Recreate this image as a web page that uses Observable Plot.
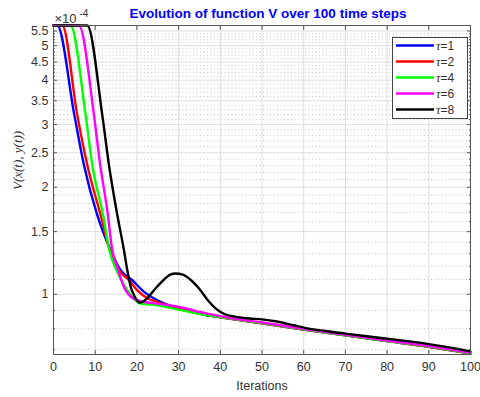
<!DOCTYPE html>
<html><head><meta charset="utf-8">
<script src="https://cdn.jsdelivr.net/npm/d3@7"></script>
<script src="https://cdn.jsdelivr.net/npm/@observablehq/plot@0.6"></script>
<style>
body{margin:0;background:#fff;}
#wrap{position:relative;width:480px;height:397px;}
</style></head><body><div id="wrap"></div>
<script>
const title = "Evolution of function V over 100 time steps";
const xLabel = "Iterations";
const yLabel = "V(x(t), y(t))";
const taus = [1, 2, 4, 6, 8];
const colors = ["#0000ff", "#ff0000", "#00ff00", "#ff00ff", "#000000"];

// values in units of 1e-4
const x1 = [0, 0.9, 5.0, 7.3, 10.5, 13.7, 16.1, 18.9, 21.3, 24.9, 28.9, 36.9, 40, 50, 60, 70, 80, 90, 100];
const v1 = [5.7, 5.7, 3.19, 2.31, 1.67, 1.33, 1.168, 1.095, 1.026, 0.962, 0.921, 0.873, 0.862, 0.829, 0.796, 0.766, 0.738, 0.712, 0.681];
const x2 = [0, 2.1, 5.7, 8.1, 11.3, 13.5, 15.7, 18.1, 20.1, 22.5, 24.9, 28.9, 36.9, 40, 50, 60, 70, 80, 90, 100];
const v2 = [5.7, 5.7, 3.19, 2.31, 1.67, 1.33, 1.168, 1.095, 1.026, 0.975, 0.951, 0.921, 0.873, 0.862, 0.829, 0.796, 0.766, 0.738, 0.712, 0.681];
const x4 = [0, 4.1, 7.7, 9.3, 11.9, 13.4, 15.1, 17.7, 19.3, 20.9, 24.9, 28.9, 36.9, 40, 50, 60, 70, 80, 90, 100];
const v4 = [5.7, 5.7, 3.19, 2.31, 1.67, 1.33, 1.168, 1.026, 0.972, 0.941, 0.931, 0.911, 0.873, 0.863, 0.830, 0.797, 0.767, 0.739, 0.713, 0.682];
const x6 = [0, 6.1, 9.7, 11.2, 12.9, 14.1, 15.3, 17.3, 20.1, 24.9, 28.9, 36.9, 43.2, 50, 60, 70, 80, 90, 100];
const v6 = [5.7, 5.7, 3.19, 2.31, 1.72, 1.33, 1.19, 1.026, 0.962, 0.941, 0.927, 0.882, 0.855, 0.833, 0.799, 0.769, 0.741, 0.715, 0.684];
const x8 = [0, 8.1, 11.7, 13.3, 15.3, 16.9, 17.7, 18.5, 19.3, 20.7, 22.5, 24.5, 26.5, 28, 29.3, 31, 33, 35, 37, 39, 41, 43.5, 47, 50, 53.6, 57.6, 60, 65.6, 70, 80, 90, 100];
const v8 = [5.7, 5.7, 3.19, 2.31, 1.67, 1.33, 1.168, 1.05, 0.994, 0.947, 0.975, 1.04, 1.10, 1.135, 1.144, 1.135, 1.095, 1.035, 0.962, 0.91, 0.88, 0.865, 0.855, 0.85, 0.838, 0.818, 0.806, 0.787, 0.775, 0.750, 0.724, 0.691];

const xTicks = [0, 10, 20, 30, 40, 50, 60, 70, 80, 90, 100];
const yTicks = [1, 1.5, 2, 2.5, 3, 3.5, 4, 4.5, 5, 5.5];
const yMinor = d3.range(7, 56).map(d => d / 10).filter(d => !yTicks.some(t => Math.abs(t - d) < 1e-9));

const seriesX = [x1, x2, x4, x6, x8];
const seriesV = [v1, v2, v4, v6, v8];
const rows = [];
taus.forEach((t, i) => seriesX[i].forEach((x, j) => rows.push({tau: t, x, v: seriesV[i][j]})));

const font = "'Liberation Sans', Arial, Helvetica, sans-serif";
const plot = Plot.plot({
  width: 480, height: 397,
  marginLeft: 53, marginRight: 10, marginTop: 25, marginBottom: 43,
  style: {fontFamily: font, fontSize: "12px", color: "#262626", background: "#fff"},
  x: {domain: [0, 100]},
  y: {type: "log", domain: [0.677, 5.7]},
  color: {domain: taus, range: colors},
  marks: [
    Plot.gridY(yMinor, {stroke: "#a0a0a0", strokeOpacity: 0.6, strokeDasharray: "1,2.5"}),
    Plot.gridY(yTicks, {stroke: "#dedede", strokeOpacity: 1}),
    Plot.gridX(xTicks, {stroke: "#dedede", strokeOpacity: 1}),
    Plot.line(rows, {x: "x", y: "v", z: "tau", stroke: d => d.tau, strokeWidth: 2.4, curve: "monotone-x"}),
    Plot.frame({stroke: "#555", strokeWidth: 1}),
    Plot.axisX(xTicks, {tickSize: -4, tickPadding: 12, label: null, tickFormat: d => d, fontSize: 12.5, fill: "#333", stroke: "#555"}),
    Plot.axisX(xTicks, {anchor: "top", tickSize: -4, text: null, label: null, stroke: "#555"}),
    Plot.axisY(yTicks, {tickSize: -4, tickPadding: 9, label: null, tickFormat: d => String(d), fontSize: 12.5, fill: "#333", stroke: "#555"}),
    Plot.axisY(yTicks, {anchor: "right", tickSize: -4, text: null, label: null, stroke: "#555"}),
    Plot.axisY(yMinor, {tickSize: -2, text: null, label: null, stroke: "#555"}),
    Plot.axisY(yMinor, {anchor: "right", tickSize: -2, text: null, label: null, stroke: "#555"}),
    Plot.text([title], {frameAnchor: "top", dx: 6, dy: -12, lineAnchor: "middle", fill: "#0000ff", fontWeight: "bold", fontSize: 13.5}),
    Plot.text(["×10"], {frameAnchor: "top-left", dx: 1, dy: -7, textAnchor: "start", lineAnchor: "middle", fontSize: 13, fill: "#333"}),
    Plot.text(["-4"], {frameAnchor: "top-left", dx: 26, dy: -12, textAnchor: "start", lineAnchor: "middle", fontSize: 10, fill: "#333"}),
    Plot.text([xLabel], {frameAnchor: "bottom", dy: 31, lineAnchor: "middle", fontSize: 12.5, fill: "#333"}),
    Plot.text([yLabel], {frameAnchor: "left", dx: -36, rotate: -90, lineAnchor: "middle", fontSize: 13, fontStyle: "italic", fontFamily: "'Liberation Serif', 'DejaVu Serif', serif", fill: "#333"})
  ]
});
const wrap = document.getElementById("wrap");
wrap.appendChild(plot);

// legend overlay
const ns = "http://www.w3.org/2000/svg";
const lg = document.createElementNS(ns, "svg");
lg.setAttribute("width", 76); lg.setAttribute("height", 82);
lg.style.position = "absolute"; lg.style.left = "392px"; lg.style.top = "37px";
let html = `<rect x="0.5" y="0.5" width="75" height="81" fill="#fff" stroke="#444" stroke-width="1"/>`;
taus.forEach((t, i) => {
  const y = 8.5 + i * 16;
  html += `<line x1="4" x2="42" y1="${y}" y2="${y}" stroke="${colors[i]}" stroke-width="2.4"/>`;
  html += `<text x="44" y="${y}" dy="0.35em" font-size="12.5" fill="#333"><tspan font-family="'Liberation Serif', serif" font-style="italic">τ</tspan><tspan font-family="Liberation Sans, Arial, sans-serif" font-size="12">=${t}</tspan></text>`;
});
lg.innerHTML = html;
wrap.appendChild(lg);
</script>
</body></html>
